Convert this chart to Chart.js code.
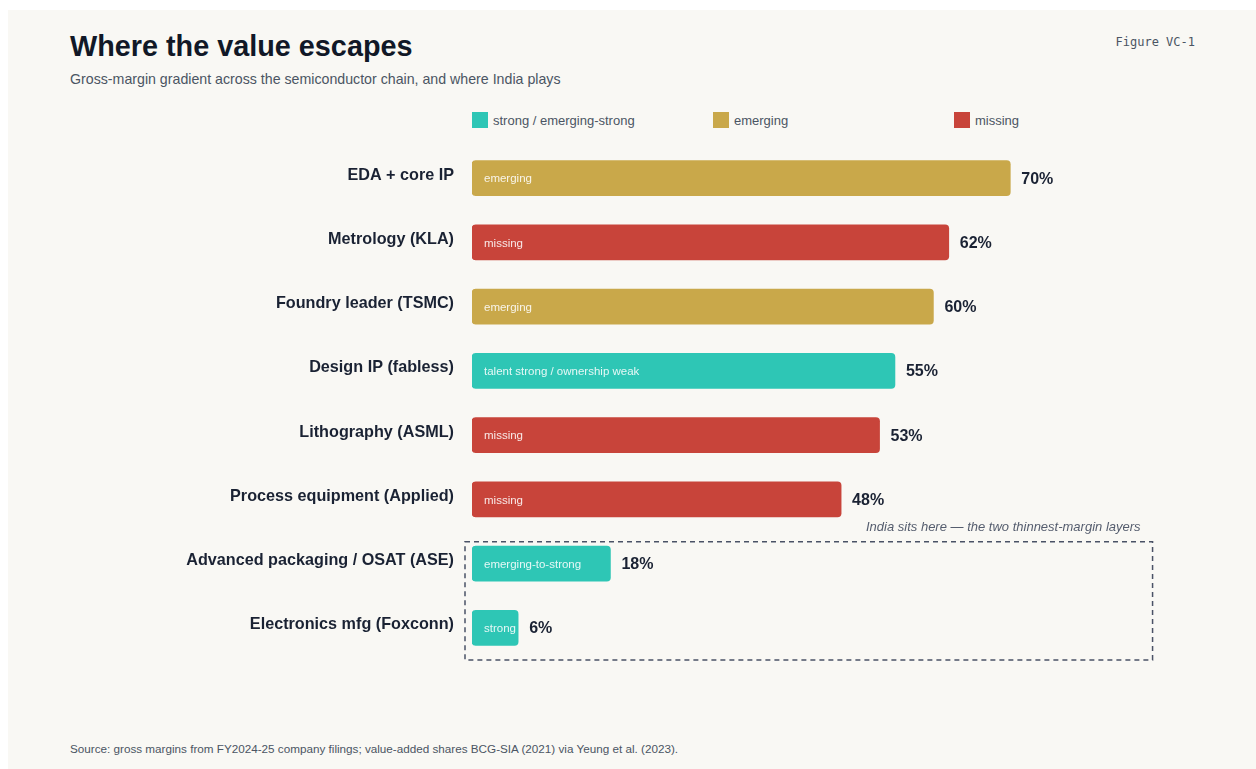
<!DOCTYPE html>
<html>
<head>
<meta charset="utf-8">
<script src="https://cdn.jsdelivr.net/npm/chart.js@4.4.1/dist/chart.umd.min.js"></script>
<style>
  html, body { margin: 0; padding: 0; background: #ffffff; }
  body { width: 1256px; height: 769px; position: relative; overflow: hidden; font-family: 'Liberation Sans', Arial, sans-serif; }
  .card { position: absolute; left: 8px; top: 10px; width: 1248px; height: 759px; background: #f9f8f4; }
  .title { position: absolute; left: 70px; top: 30px; font-size: 28.8px; font-weight: bold; color: #111827; white-space: nowrap; }
  .subtitle { position: absolute; left: 70px; top: 71px; font-size: 14.2px; color: #4b5563; white-space: nowrap; }
  .fig { position: absolute; right: 61px; top: 35px; font-family: 'DejaVu Sans Mono', monospace; font-size: 12px; color: #4b5563; }
  .legend { position: absolute; left: 472px; top: 112px; }
  .legend .item { position: absolute; top: 0; height: 16px; display: flex; align-items: center; white-space: nowrap; font-size: 13px; color: #4b5563; }
  .legend .sw { width: 16px; height: 16px; margin-right: 5px; }
  .source { position: absolute; left: 70px; top: 742px; font-size: 11.7px; color: #4b5563; white-space: nowrap; }
  #chart { position: absolute; left: 0; top: 0; }
</style>
</head>
<body>
<div class="card"></div>
<div class="title">Where the value escapes</div>
<div class="subtitle">Gross-margin gradient across the semiconductor chain, and where India plays</div>
<div class="fig">Figure VC-1</div>
<div class="legend" id="legend"></div>
<div class="source">Source: gross margins from FY2024-25 company filings; value-added shares BCG-SIA (2021) via Yeung et al. (2023).</div>
<canvas id="chart" width="1256" height="769"></canvas>
<script>
// chart data
const layers = [
  'EDA + core IP',
  'Metrology (KLA)',
  'Foundry leader (TSMC)',
  'Design IP (fabless)',
  'Lithography (ASML)',
  'Process equipment (Applied)',
  'Advanced packaging / OSAT (ASE)',
  'Electronics mfg (Foxconn)'
];
const grossMargins = [70, 62, 60, 55, 53, 48, 18, 6];
const indiaStatus = ['emerging', 'missing', 'emerging', 'strong', 'missing', 'missing', 'strong', 'strong'];
const barNotes = ['emerging', 'missing', 'emerging', 'talent strong / ownership weak', 'missing', 'missing', 'emerging-to-strong', 'strong'];
const legendLabels = ['strong / emerging-strong', 'emerging', 'missing'];
const legendKeys = ['strong', 'emerging', 'missing'];
const indiaRows = [6, 7];
const indiaNote = 'India sits here \u2014 the two thinnest-margin layers';

const statusColors = {
  strong: '#2ec6b5',
  emerging: '#c9a84a',
  missing: '#c8443a'
};

// html legend, evenly spread like the original
const legendEl = document.getElementById('legend');
legendKeys.forEach((k, i) => {
  const item = document.createElement('div');
  item.className = 'item';
  item.style.left = (i * 241) + 'px';
  item.innerHTML = '<span class="sw" style="background:' + statusColors[k] + '"></span>' + legendLabels[i];
  legendEl.appendChild(item);
});

// in-bar notes, value labels and the India box
const barExtras = {
  id: 'barExtras',
  afterDatasetsDraw(chart) {
    const ctx = chart.ctx;
    const meta = chart.getDatasetMeta(0);
    const x = chart.scales.x;
    const y = chart.scales.y;
    ctx.save();
    meta.data.forEach((bar, i) => {
      ctx.textBaseline = 'middle';
      ctx.textAlign = 'left';
      ctx.font = '11.5px "Liberation Sans", Arial, sans-serif';
      ctx.fillStyle = 'rgba(255,255,255,0.88)';
      ctx.fillText(barNotes[i], bar.base + 12, bar.y + 1);
      ctx.font = 'bold 16px "Liberation Sans", Arial, sans-serif';
      ctx.fillStyle = '#1a2233';
      ctx.fillText(grossMargins[i] + '%', bar.x + 11, bar.y + 1);
    });

    // dashed box round the India rows
    const top = y.getPixelForValue(indiaRows[0]) - 22;
    const bottom = y.getPixelForValue(indiaRows[1]) + 32;
    const left = chart.chartArea.left - 7;
    const right = x.getPixelForValue(88.5);
    ctx.setLineDash([5, 4]);
    ctx.lineWidth = 1.5;
    ctx.strokeStyle = '#4a5266';
    ctx.strokeRect(left, top, right - left, bottom - top);
    ctx.setLineDash([]);

    ctx.font = 'italic 13px "Liberation Sans", Arial, sans-serif';
    ctx.fillStyle = '#555d6e';
    ctx.textAlign = 'right';
    ctx.textBaseline = 'middle';
    ctx.fillText(indiaNote, right - 12, top - 14);
    ctx.restore();
  }
};

new Chart(document.getElementById('chart').getContext('2d'), {
  type: 'bar',
  data: {
    labels: layers,
    datasets: [{
      data: grossMargins,
      backgroundColor: indiaStatus.map(s => statusColors[s]),
      borderRadius: 4,
      borderSkipped: false,
      barThickness: 35
    }]
  },
  options: {
    indexAxis: 'y',
    responsive: false,
    animation: false,
    layout: { padding: { top: 146, bottom: 109, left: 0, right: 15 } },
    plugins: {
      legend: { display: false },
      tooltip: { enabled: false }
    },
    scales: {
      x: {
        display: false,
        min: 0,
        max: 100
      },
      y: {
        grid: { display: false, drawTicks: false },
        border: { display: false },
        afterFit: (scale) => { scale.width = 472; },
        ticks: {
          padding: 18,
          labelOffset: -3,
          color: '#1a2233',
          font: { family: '"Liberation Sans", Arial, sans-serif', size: 16.2, weight: 'bold' }
        }
      }
    }
  },
  plugins: [barExtras]
});
</script>
</body>
</html>
